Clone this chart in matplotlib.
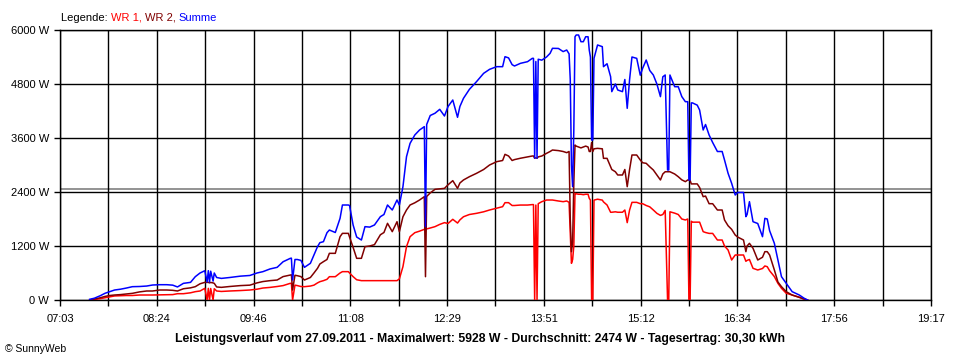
import matplotlib
matplotlib.use("Agg")
import matplotlib.pyplot as plt

plt.rcParams['font.family'] = ['Liberation Sans', 'DejaVu Sans']

# ---- data (time, Summe, WR 2, WR 1) ----
times = ["07:28","07:32","07:37","07:41","07:45","07:49","07:54","07:59","08:04","08:10",
         "08:16","08:21","08:27","08:33","08:38","08:42","08:47","08:53","08:57","09:01",
         "09:05","09:07","09:08","09:09","09:10","09:12","09:13","09:15","09:19","09:26",
         "09:35","09:43","09:49","09:54","10:00","10:06","10:11","10:17","10:18","10:19",
         "10:21","10:23","10:26","10:29","10:34","10:37","10:40","10:42","10:45","10:48",
         "10:50","10:55","10:59","11:01","11:06","11:07","11:10","11:13","11:17","11:20",
         "11:24","11:28","11:33","11:36","11:39","11:43","11:47","11:49","11:52","11:55",
         "11:58","12:02","12:06","12:10","12:11","12:12","12:15","12:19","12:23","12:27",
         "12:30","12:34","12:38","12:40","12:43","12:48","12:54","13:00","13:05","13:11",
         "13:16","13:18","13:21","13:24","13:26","13:31","13:37","13:41","13:42","13:43",
         "13:44","13:45","13:46","13:49","13:53","13:56","13:58","14:03","14:07","14:10",
         "14:12","14:13","14:14","14:15","14:16","14:17","14:18","14:20","14:22","14:24",
         "14:26","14:28","14:29","14:30","14:31","14:32","14:33","14:36","14:40","14:41",
         "14:44","14:47","14:48","14:51","14:53","14:57","14:59","15:01","15:03","15:05",
         "15:09","15:12","15:14","15:17","15:20","15:23","15:26","15:29","15:31","15:33",
         "15:35","15:36","15:37","15:41","15:44","15:47","15:50","15:52","15:53","15:54",
         "15:55","15:56","16:00","16:02","16:05","16:07","16:10","16:13","16:17","16:21",
         "16:23","16:26","16:29","16:32","16:34","16:39","16:41","16:42","16:44","16:47",
         "16:51","16:55","16:57","16:59","17:01","17:05","17:08","17:11","17:15","17:20",
         "17:26","17:30","17:33"]

summe = [15,40,96,150,185,222,240,266,296,300,
         310,333,340,340,330,290,370,392,518,600,
         650,400,652,400,640,420,600,500,480,500,
         530,545,600,630,690,726,850,925,930,444,
         900,900,880,726,815,1000,1185,1274,1296,1496,
         1555,1500,1815,2111,2111,2100,1667,1400,1333,1630,
         1620,1667,1852,1900,2111,2000,2222,2111,2518,3185,
         3481,3667,3778,3852,1630,3900,4100,4150,4237,4089,
         4300,4444,4060,4300,4481,4681,4852,5037,5126,5185,
         5185,5407,5380,5230,5200,5259,5296,5370,5370,3150,
         5300,3150,5350,5330,5400,5481,5593,5590,5520,5555,
         5470,4900,3000,2518,3780,5850,5889,5889,5740,5740,
         5850,5850,5555,5400,3555,3555,5370,5667,5630,5185,
         5250,4963,4630,4800,4667,4630,4900,4260,4900,5400,
         5370,4996,5150,5333,5100,5000,4800,4519,4960,5000,
         2889,2889,5000,4740,4740,4520,4407,4407,2667,2667,
         4380,4380,4330,4222,3778,3900,3667,3500,3300,3300,
         3111,2815,2593,2333,2390,2390,1852,1900,2185,1740,
         1700,1407,1815,1800,1540,1259,889,518,370,185,
         111,40,0]

wr2 = [0,20,50,80,100,111,120,135,148,180,
       200,200,222,222,215,200,250,270,296,360,
       392,392,392,380,390,380,370,290,281,300,
       320,330,380,410,430,444,520,555,560,222,
       550,540,520,444,500,600,704,800,852,900,
       1037,1037,1407,1481,1481,1400,1170,926,926,1185,
       1200,1230,1450,1500,1704,1519,1740,1519,1850,2000,
       2111,2160,2222,2296,518,2300,2380,2459,2470,2481,
       2560,2652,2481,2600,2667,2740,2815,2900,3000,3074,
       3100,3237,3200,3100,3120,3150,3180,3200,3200,3150,
       3160,3150,3180,3200,3259,3300,3333,3320,3300,3274,
       3300,1800,1074,1300,2600,3444,3420,3400,3380,3400,
       3420,3400,3300,3300,3500,3300,3360,3370,3360,3148,
       3148,2963,2900,2850,2778,2778,2900,2518,2900,3222,
       3222,3111,3050,3037,2960,2889,2780,2667,2800,2850,
       2850,2850,2850,2800,2740,2670,2630,2667,2667,2660,
       2580,2580,2580,2500,2296,2310,2140,2140,2000,2000,
       1778,1650,1570,1444,1400,1333,1074,1200,1259,1150,
       889,950,1074,1074,1000,667,400,296,185,110,
       60,20,0]

wr1 = [0,10,30,50,70,90,96,100,100,111,
       111,111,115,120,120,140,140,160,185,200,
       259,0,259,0,255,0,250,200,190,200,
       210,222,240,266,280,300,320,370,370,0,
       330,320,300,296,310,330,380,407,430,460,
       518,518,600,630,630,600,519,450,430,430,
       430,430,430,430,430,430,430,470,741,1185,
       1407,1496,1530,1570,1570,1580,1600,1630,1680,1719,
       1700,1793,1710,1780,1850,1900,1926,1960,2000,2040,
       2074,2163,2163,2100,2100,2110,2110,2120,2120,0,
       2110,0,2140,2185,2222,2222,2222,2200,2185,2200,
       2170,1500,815,900,1200,2370,2360,2350,2350,2340,
       2350,2350,2260,2220,0,0,2220,2240,2220,2180,
       2111,1950,1950,1960,1950,1950,2000,1719,2000,2170,
       2170,2140,2140,2100,2070,2000,1926,1880,1900,1990,
       0,0,1960,1930,1900,1800,1778,1800,0,0,
       1750,1730,1730,1730,1519,1500,1480,1480,1333,1333,
       1200,1111,889,1000,1000,1000,860,880,900,704,
       667,700,756,740,650,520,370,260,150,111,
       60,20,0]

average = 2474
x_tick_labels = ["07:03","","08:24","","09:46","","11:08","","12:29","",
                 "13:51","","15:12","","16:34","","17:56","","19:17"]
y_ticks = [0, 1200, 2400, 3600, 4800, 6000]
y_tick_labels = ["0 W","1200 W","2400 W","3600 W","4800 W","6000 W"]
title = ("Leistungsverlauf vom 27.09.2011 - Maximalwert: 5928 W - "
         "Durchschnitt: 2474 W - Tagesertrag: 30,30 kWh")

def to_min(s):
    h, m = s.split(":")
    return int(h) * 60 + int(m)

t = [to_min(s) for s in times]
t_start, t_end = to_min("07:03"), to_min("19:17")

fig = plt.figure(figsize=(9.6, 3.6), dpi=100)
fig.patch.set_facecolor("white")
ax = fig.add_axes([60/960, 60/360, 871/960, 270/360])

ax.axhline(average, color="#808080", lw=1.2, zorder=1)
ax.plot(t, wr1, color="#ff0000", lw=1.1, zorder=3)
ax.plot(t, wr2, color="#800000", lw=1.1, zorder=4)
ax.plot(t, summe, color="#0000ff", lw=1.1, zorder=5)

n = len(x_tick_labels) - 1
xt = [t_start + k * (t_end - t_start) / n for k in range(n + 1)]
ax.set_xlim(t_start, t_end)
ax.set_ylim(0, 6000)
ax.set_xticks(xt)
ax.set_xticklabels(x_tick_labels)
ax.set_yticks(y_ticks)
ax.set_yticklabels(y_tick_labels)
ax.grid(True, color="black", lw=1, zorder=2)
ax.set_axisbelow(False)
for sp in ax.spines.values():
    sp.set_color("black")
    sp.set_linewidth(1)
ax.tick_params(axis="both", direction="out", length=4, width=1, color="black",
               labelsize=8, pad=4)
ax.tick_params(axis="x", pad=6)

# legend line
renderer = fig.canvas.get_renderer()
xpos = 61 / 960
ypos = 1 - 21 / 360
for txt, col in [("Legende: ", "black"), ("WR 1, ", "#ff0000"),
                 ("WR 2, ", "#800000"), ("Summe", "#0000ff")]:
    tx = fig.text(xpos, ypos, txt, color=col, fontsize=8, ha="left", va="baseline")
    bb = tx.get_window_extent(renderer=renderer)
    xpos += bb.width / fig.bbox.width

fig.text(480/960, 1 - 342/360, title, ha="center", va="baseline",
         fontsize=8.8, fontweight="bold")
fig.text(5/960, 1 - 352/360, "\u00a9 SunnyWeb", ha="left", va="baseline", fontsize=7.5)

fig.savefig("out.png", dpi=100, facecolor="white")
